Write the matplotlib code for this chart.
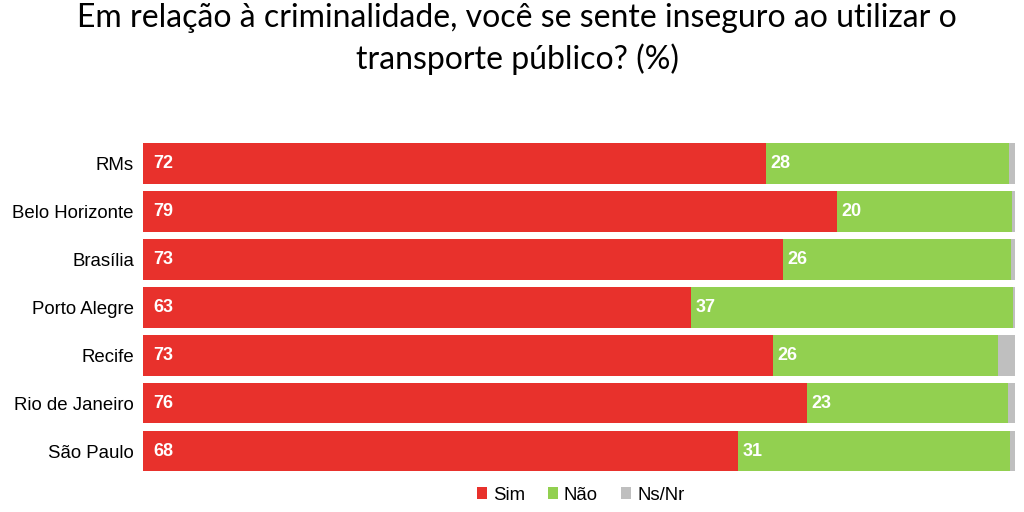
import matplotlib
matplotlib.use("Agg")
import matplotlib.pyplot as plt
import numpy as np

categories = ["RMs", "Belo Horizonte", "Brasília", "Porto Alegre", "Recife", "Rio de Janeiro", "São Paulo"]
sim = [72, 79, 73, 63, 73, 76, 68]
nao = [28, 20, 26, 37, 26, 23, 31]
nsnr = [0.7, 0.3, 0.4, 0.2, 2.0, 0.8, 0.6]

colors = {"Sim": "#E8312C", "Não": "#92D050", "Ns/Nr": "#BFBFBF"}

fig = plt.figure(figsize=(10.24, 5.12), dpi=100)
ax = fig.add_axes([0.1396, 0.0723, 0.8516, 0.6552])

sim_a = np.array(sim, float)
nao_a = np.array(nao, float)
ns_a = np.array(nsnr, float)
tot = sim_a + nao_a + ns_a
sim_p = sim_a / tot * 100
nao_p = nao_a / tot * 100
ns_p = ns_a / tot * 100

y = np.arange(len(categories))
h = 0.85
ax.barh(y, sim_p, height=h, color=colors["Sim"], label="Sim")
ax.barh(y, nao_p, left=sim_p, height=h, color=colors["Não"], label="Não")
ax.barh(y, ns_p, left=sim_p + nao_p, height=h, color=colors["Ns/Nr"], label="Ns/Nr")

for i in range(len(categories)):
    ax.text(1.2, y[i], str(sim[i]), color="white", fontweight="bold", fontsize=13,
            va="center", ha="left", family="Liberation Sans")
    ax.text(sim_p[i] + 0.5, y[i], str(nao[i]), color="white", fontweight="bold", fontsize=13,
            va="center", ha="left", family="Liberation Sans")

ax.set_xlim(0, 100)
ax.set_ylim(len(categories) - 0.5, -0.5)
ax.set_yticks(y)
ax.set_yticklabels(categories, fontsize=13.4, family="Liberation Sans")
ax.tick_params(axis="y", length=0, pad=6.5)
ax.set_xticks([])
for s in ax.spines.values():
    s.set_visible(False)

fig.text(0.505, 0.995, "Em relação à criminalidade, você se sente inseguro ao utilizar o\ntransporte público? (%)",
         ha="center", va="top", fontsize=23, family="Lato", linespacing=1.42)

leg = fig.legend(loc="center", bbox_to_anchor=(0.567, 0.033), ncol=3, frameon=False,
                 handlelength=0.55, handleheight=0.55, handletextpad=0.3, columnspacing=1.25,
                 prop={"family": "Liberation Sans", "size": 13.4})

fig.savefig("out.png", dpi=100)
